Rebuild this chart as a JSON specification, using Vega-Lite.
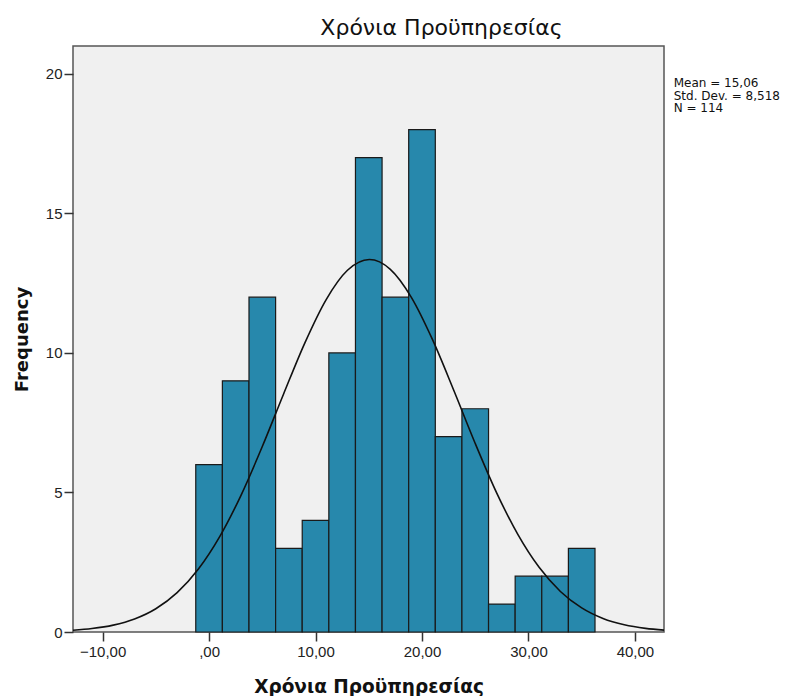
{
  "$schema": "https://vega.github.io/schema/vega-lite/v6.json",
  "width": 591,
  "height": 586,
  "autosize": {"type": "none"},
  "padding": {"left": 73, "top": 46, "right": 130, "bottom": 64},
  "background": "white",
  "config": {
    "view": {"fill": "#f0f0f0", "stroke": "#555555", "strokeWidth": 1.5},
    "font": "Liberation Sans",
    "axis": {"grid": false, "domain": false, "tickColor": "#333333", "tickSize": 9, "tickWidth": 1.5, "labelColor": "#222222", "labelFont": "Liberation Sans", "labelFontSize": 15, "titleFont": "DejaVu Sans", "titleColor": "#111111", "titleFontWeight": "bold"}
  },
  "title": {"text": "Χρόνια Προϋπηρεσίας", "font": "DejaVu Sans", "fontSize": 22, "fontWeight": "normal", "color": "#111111", "anchor": "middle", "dx": 73, "offset": 6},
  "datasets": {
    "bins": [
      {"x0": -1.25, "x1": 1.25, "count": 6},
      {"x0": 1.25, "x1": 3.75, "count": 9},
      {"x0": 3.75, "x1": 6.25, "count": 12},
      {"x0": 6.25, "x1": 8.75, "count": 3},
      {"x0": 8.75, "x1": 11.25, "count": 4},
      {"x0": 11.25, "x1": 13.75, "count": 10},
      {"x0": 13.75, "x1": 16.25, "count": 17},
      {"x0": 16.25, "x1": 18.75, "count": 12},
      {"x0": 18.75, "x1": 21.25, "count": 18},
      {"x0": 21.25, "x1": 23.75, "count": 7},
      {"x0": 23.75, "x1": 26.25, "count": 8},
      {"x0": 26.25, "x1": 28.75, "count": 1},
      {"x0": 28.75, "x1": 31.25, "count": 2},
      {"x0": 31.25, "x1": 33.75, "count": 2},
      {"x0": 33.75, "x1": 36.25, "count": 3}
    ],
    "curve": [
      {"x": -12.78, "y": 0.064},
      {"x": -11, "y": 0.124},
      {"x": -9, "y": 0.247},
      {"x": -7, "y": 0.467},
      {"x": -5, "y": 0.834},
      {"x": -3, "y": 1.41},
      {"x": -1, "y": 2.257},
      {"x": 1, "y": 3.418},
      {"x": 3, "y": 4.899},
      {"x": 5, "y": 6.646},
      {"x": 7, "y": 8.531},
      {"x": 9, "y": 10.363},
      {"x": 11, "y": 11.914},
      {"x": 13, "y": 12.963},
      {"x": 15.06, "y": 13.348},
      {"x": 17, "y": 13.006},
      {"x": 19, "y": 11.993},
      {"x": 21, "y": 10.466},
      {"x": 23, "y": 8.645},
      {"x": 25, "y": 6.757},
      {"x": 27, "y": 4.997},
      {"x": 29, "y": 3.498},
      {"x": 31, "y": 2.317},
      {"x": 33, "y": 1.452},
      {"x": 35, "y": 0.862},
      {"x": 37, "y": 0.484},
      {"x": 39, "y": 0.257},
      {"x": 41, "y": 0.129},
      {"x": 42.73, "y": 0.068}
    ],
    "stats": [{"label": "Mean = 15,06\nStd. Dev. = 8,518\nN = 114"}]
  },
  "layer": [
    {
      "data": {"name": "bins"},
      "mark": {"type": "bar", "fill": "#2788AC", "stroke": "#1a1a1a", "strokeWidth": 1.2},
      "encoding": {
        "x": {"field": "x0", "type": "quantitative", "scale": {"domain": [-12.78, 42.73], "nice": false, "zero": false}, "axis": {"values": [-10, 0, 10, 20, 30, 40], "labelExpr": "datum.value == 0 ? ',00' : replace(format(datum.value, '.2f'), '.', ',')", "title": "Χρόνια Προϋπηρεσίας", "titleFontSize": 18.5, "titlePadding": 18, "labelPadding": 3}},
        "x2": {"field": "x1"},
        "y": {"field": "count", "type": "quantitative", "scale": {"domain": [0, 21], "nice": false}, "axis": {"values": [0, 5, 10, 15, 20], "title": "Frequency", "titleFontSize": 18, "titlePadding": 14, "labelPadding": 2}},
        "y2": {"datum": 0}
      }
    },
    {
      "data": {"name": "curve"},
      "mark": {"type": "line", "color": "#111111", "strokeWidth": 1.6, "interpolate": "monotone"},
      "encoding": {
        "x": {"field": "x", "type": "quantitative"},
        "y": {"field": "y", "type": "quantitative"}
      }
    },
    {
      "data": {"name": "stats"},
      "mark": {"type": "text", "font": "DejaVu Sans", "align": "left", "baseline": "top", "fontSize": 12, "lineHeight": 12.5, "lineBreak": "\n", "color": "#111111", "clip": false},
      "encoding": {
        "x": {"datum": 43.64},
        "y": {"datum": 19.85},
        "text": {"field": "label"}
      }
    }
  ]
}
